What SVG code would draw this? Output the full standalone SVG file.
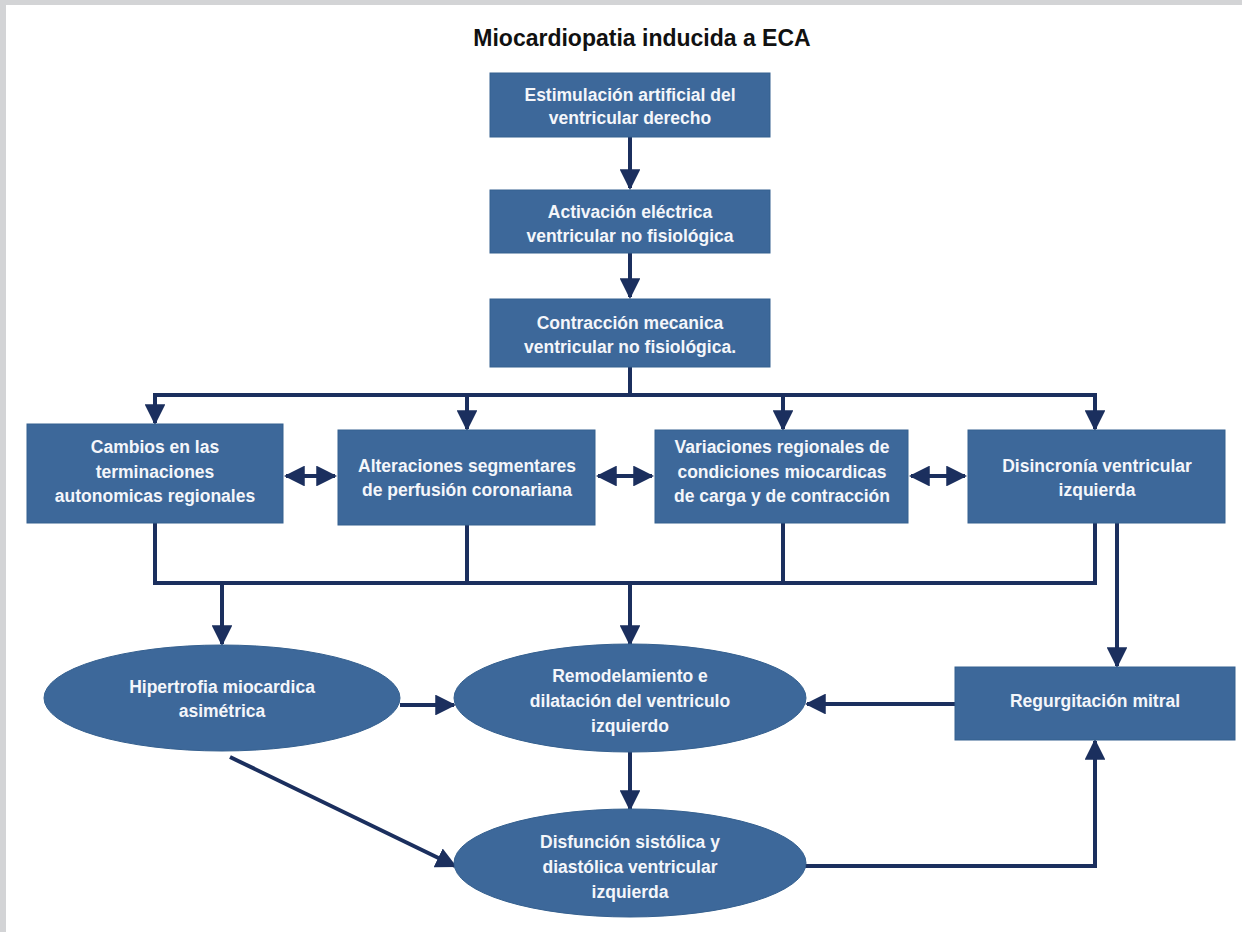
<svg xmlns="http://www.w3.org/2000/svg" width="1242" height="932" viewBox="0 0 1242 932">
<style>
.box{fill:#3d689a;stroke:#35608f;stroke-width:1}
.t{font-family:"Liberation Sans",Arial,sans-serif;font-weight:bold;font-size:17.5px;fill:#f4f6fa;text-anchor:middle}
.title{font-family:"Liberation Sans",Arial,sans-serif;font-weight:bold;font-size:23px;fill:#111;text-anchor:middle}
.ln{fill:none;stroke:#1b2f5e;stroke-width:4}
</style>
<defs>
<marker id="ah" viewBox="0 0 10 10" refX="9" refY="5" markerWidth="5.2" markerHeight="5.2" markerUnits="strokeWidth" orient="auto-start-reverse">
<path d="M0,0 L10,5 L0,10 z" fill="#1b2f5e"/>
</marker>
</defs>
<rect x="0" y="0" width="1242" height="932" fill="#ffffff"/>
<rect x="0" y="0" width="1242" height="5" fill="#d3d4d6"/>
<rect x="0" y="0" width="6" height="932" fill="#d3d4d6"/>
<text class="title" x="642" y="46">Miocardiopatia inducida a ECA</text>

<g id="connectors">
<line class="ln" x1="630" y1="137" x2="630" y2="188" marker-end="url(#ah)"/>
<line class="ln" x1="630" y1="253" x2="630" y2="297" marker-end="url(#ah)"/>
<polyline class="ln" points="630,367 630,395"/>
<line class="ln" x1="153" y1="395" x2="1097" y2="395"/>
<line class="ln" x1="155" y1="393" x2="155" y2="423" marker-end="url(#ah)"/>
<line class="ln" x1="467" y1="393" x2="467" y2="429" marker-end="url(#ah)"/>
<line class="ln" x1="783" y1="393" x2="783" y2="429" marker-end="url(#ah)"/>
<line class="ln" x1="1095" y1="393" x2="1095" y2="429" marker-end="url(#ah)"/>
<line class="ln" x1="286" y1="476" x2="335" y2="476" marker-start="url(#ah)" marker-end="url(#ah)"/>
<line class="ln" x1="598" y1="476" x2="652" y2="476" marker-start="url(#ah)" marker-end="url(#ah)"/>
<line class="ln" x1="911" y1="476" x2="965" y2="476" marker-start="url(#ah)" marker-end="url(#ah)"/>
<polyline class="ln" points="155,523 155,583 1095,583 1095,523"/>
<line class="ln" x1="467" y1="525" x2="467" y2="583"/>
<line class="ln" x1="783" y1="523" x2="783" y2="583"/>
<line class="ln" x1="222" y1="583" x2="222" y2="644" marker-end="url(#ah)"/>
<line class="ln" x1="630" y1="583" x2="630" y2="644" marker-end="url(#ah)"/>
<line class="ln" x1="1117" y1="523" x2="1117" y2="666" marker-end="url(#ah)"/>
<line class="ln" x1="400" y1="705" x2="454" y2="705" marker-end="url(#ah)"/>
<line class="ln" x1="955" y1="704" x2="807" y2="704" marker-end="url(#ah)"/>
<line class="ln" x1="630" y1="752" x2="630" y2="809" marker-end="url(#ah)"/>
<line class="ln" x1="230" y1="757" x2="455" y2="866" marker-end="url(#ah)"/>
<polyline class="ln" points="803,866 1095,866 1095,741" marker-end="url(#ah)"/>
</g>

<g id="n1"><rect class="box" x="490" y="73" width="280" height="64"/>
<text class="t" x="630" y="101">Estimulación artificial del</text>
<text class="t" x="630" y="124">ventricular derecho</text></g>

<g id="n2"><rect class="box" x="490" y="190" width="280" height="63"/>
<text class="t" x="630" y="218">Activación eléctrica</text>
<text class="t" x="630" y="242">ventricular no fisiológica</text></g>

<g id="n3"><rect class="box" x="490" y="299" width="280" height="68"/>
<text class="t" x="630" y="329">Contracción mecanica</text>
<text class="t" x="630" y="353">ventricular no fisiológica.</text></g>

<g id="n4"><rect class="box" x="27" y="424" width="256" height="99"/>
<text class="t" x="155" y="453">Cambios en las</text>
<text class="t" x="155" y="478">terminaciones</text>
<text class="t" x="155" y="502">autonomicas regionales</text></g>

<g id="n5"><rect class="box" x="338" y="430" width="257" height="95"/>
<text class="t" x="467" y="472">Alteraciones segmentares</text>
<text class="t" x="467" y="496">de perfusión coronariana</text></g>

<g id="n6"><rect class="box" x="655" y="430" width="253" height="93"/>
<text class="t" x="782" y="453">Variaciones regionales de</text>
<text class="t" x="782" y="478">condiciones miocardicas</text>
<text class="t" x="782" y="502">de carga y de contracción</text></g>

<g id="n7"><rect class="box" x="968" y="430" width="257" height="93"/>
<text class="t" x="1097" y="472">Disincronía ventricular</text>
<text class="t" x="1097" y="496">izquierda</text></g>

<g id="n8"><ellipse class="box" cx="222" cy="698" rx="178" ry="53"/>
<text class="t" x="222" y="693">Hipertrofia miocardica</text>
<text class="t" x="222" y="717">asimétrica</text></g>

<g id="n9"><ellipse class="box" cx="630" cy="698" rx="176" ry="54"/>
<text class="t" x="630" y="682">Remodelamiento e</text>
<text class="t" x="630" y="707">dilatación del ventriculo</text>
<text class="t" x="630" y="732">izquierdo</text></g>

<g id="n10"><ellipse class="box" cx="630" cy="863" rx="176" ry="54"/>
<text class="t" x="630" y="848">Disfunción sistólica y</text>
<text class="t" x="630" y="873">diastólica ventricular</text>
<text class="t" x="630" y="898">izquierda</text></g>

<g id="n11"><rect class="box" x="955" y="667" width="280" height="73"/>
<text class="t" x="1095" y="707">Regurgitación mitral</text></g>
</svg>
